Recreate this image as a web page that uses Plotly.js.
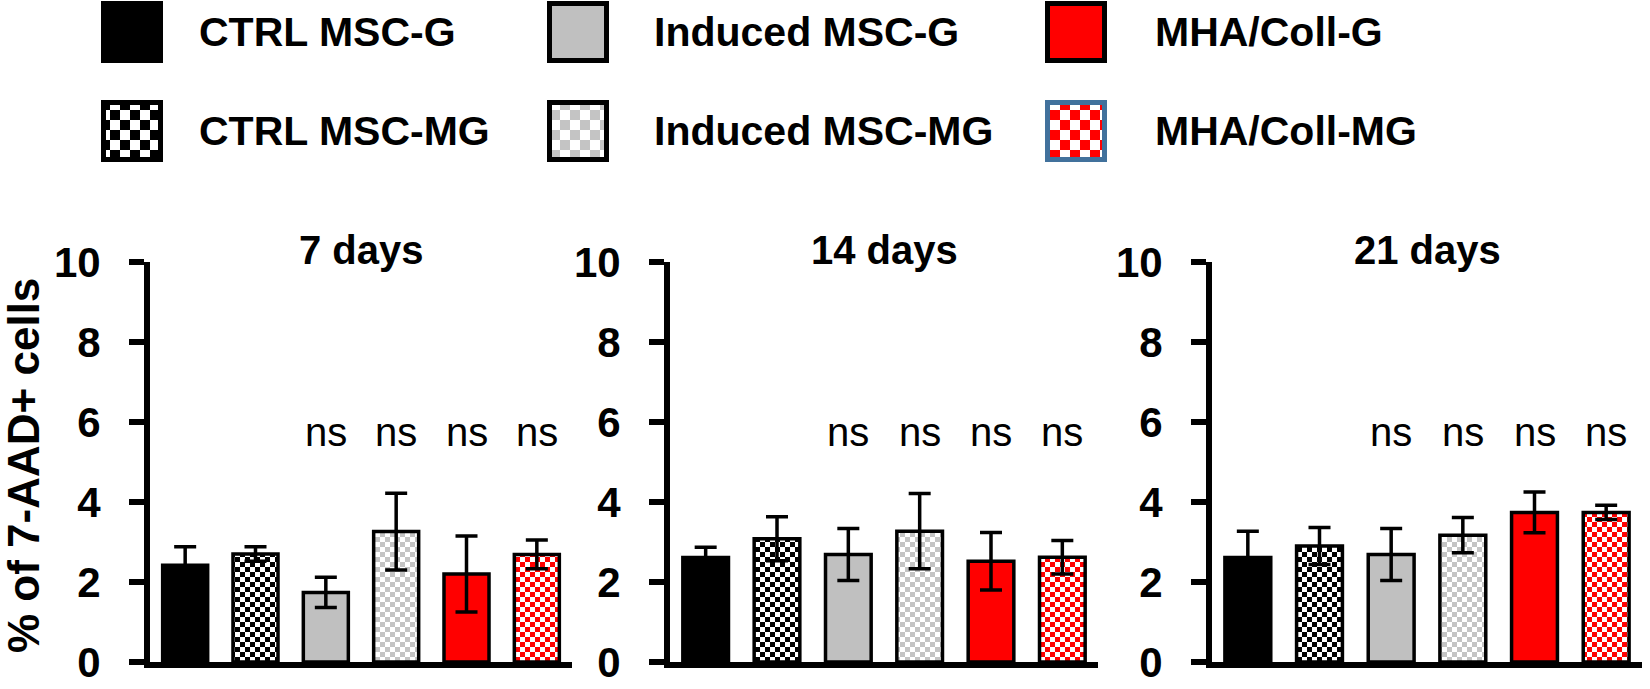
<!DOCTYPE html>
<html>
<head>
<meta charset="utf-8">
<script src="https://cdn.plot.ly/plotly-3.0.1.min.js"></script>
<style>
  html, body { margin: 0; padding: 0; background: #fff; }
  #chart { width: 1650px; height: 689px; }
</style>
</head>
<body>
<div id="chart"></div>
<script>
// groups and time points
var groups = ['CTRL MSC-G', 'CTRL MSC-MG', 'Induced MSC-G', 'Induced MSC-MG', 'MHA/Coll-G', 'MHA/Coll-MG'];
var days = ['7 days', '14 days', '21 days'];

// % of 7-AAD+ cells, mean and error
var mean7  = [2.42, 2.70, 1.74, 3.26, 2.20, 2.69];
var err7   = [0.46, 0.18, 0.38, 0.96, 0.95, 0.36];
var mean14 = [2.61, 3.08, 2.69, 3.27, 2.52, 2.62];
var err14  = [0.26, 0.55, 0.65, 0.94, 0.72, 0.42];
var mean21 = [2.61, 2.90, 2.69, 3.17, 3.74, 3.74];
var err21  = [0.66, 0.46, 0.65, 0.44, 0.51, 0.18];
var sig    = ['', '', 'ns', 'ns', 'ns', 'ns'];

var yTicks = [0, 2, 4, 6, 8, 10];

// key reading order: 3 per row
var keyOrder = [0, 2, 4, 1, 3, 5];

// ---- styles / layout constants ----
var FONT = 'Liberation Sans, Arial, sans-serif';
var W = 1650, H = 689;
var look = [
  { fill: '#000000', line: '#000000' },
  { fill: '#000000', bg: '#ffffff', line: '#000000' },
  { fill: '#c0c0c0', line: '#000000' },
  { fill: '#c4c4c4', bg: '#ffffff', line: '#000000' },
  { fill: '#ff0000', line: '#000000' },
  { fill: '#ff0000', bg: '#ffffff', line: '#000000', keyLine: '#41719c' }
];
var panelPx = [[150, 572], [670, 1098], [1212, 1642]];
var plotTop = 262, plotBottom = 662;
var nsLevel = 5.75;
var keyCols = [132, 578, 1076], keyText = [197, 652, 1153], keyRows = [32, 131], keySize = 57;
var keyHeight = 172;

var means = [mean7, mean14, mean21];
var errs = [err7, err14, err21];

var checkers = {};   // trace uid -> checkerboard colours
var traces = [];
var layout = {
  width: W, height: H,
  margin: { l: 0, r: 0, t: 0, b: 0 },
  paper_bgcolor: '#fff', plot_bgcolor: 'rgba(0,0,0,0)',
  barmode: 'overlay',
  showlegend: false,
  font: { family: FONT, color: '#000' },
  annotations: []
};

function axName(p) { return p === 0 ? '' : String(p + 1); }

days.forEach(function (day, p) {
  var xa = 'x' + axName(p), ya = 'y' + axName(p);
  groups.forEach(function (g, i) {
    var uid = 'bar' + p + 'g' + i;
    var marker = { color: look[i].fill, line: { color: look[i].line, width: 3.5 } };
    if (look[i].bg) {
      marker.pattern = { shape: '/', fgcolor: look[i].fill, bgcolor: look[i].bg, size: 10, fillmode: 'replace' };
      checkers[uid] = { fg: look[i].fill, bg: look[i].bg, cell: 5 };
    }
    traces.push({
      type: 'bar', x: [g], y: [means[p][i]], width: 0.64,
      error_y: { type: 'data', array: [errs[p][i]], color: '#000', thickness: 3.5, width: 11 },
      marker: marker, xaxis: xa, yaxis: ya, uid: uid, hoverinfo: 'skip'
    });
    if (sig[i]) {
      layout.annotations.push({
        text: sig[i], x: g, y: nsLevel, xref: xa, yref: ya, showarrow: false,
        xanchor: 'center', yanchor: 'middle',
        font: { family: FONT, size: 40, color: '#000' }
      });
    }
  });

  layout['xaxis' + axName(p)] = {
    domain: [panelPx[p][0] / W, panelPx[p][1] / W],
    anchor: ya, type: 'category', categoryarray: groups, range: [-0.5, 5.5],
    showline: true, linecolor: '#000', linewidth: 6,
    ticks: '', showticklabels: false, showgrid: false, zeroline: false, fixedrange: true
  };
  layout['yaxis' + axName(p)] = {
    domain: [(H - plotBottom) / H, (H - plotTop) / H],
    anchor: xa, range: [0, 10], tickvals: yTicks,
    showline: true, linecolor: '#000', linewidth: 6,
    ticks: 'outside', ticklen: 15, tickwidth: 6, tickcolor: '#000',
    ticklabelstandoff: 20, ticklabeloverflow: 'allow',
    tickfont: { family: FONT, size: 42, weight: 'bold', color: '#000' },
    showgrid: false, zeroline: false, fixedrange: true
  };
  layout.annotations.push({
    text: day, xref: xa + ' domain', x: 0.5, yref: 'paper', y: (H - 250) / H,
    xanchor: 'center', yanchor: 'middle', showarrow: false,
    font: { family: FONT, size: 40, weight: 'bold', color: '#000' }
  });
});

// y title
layout.annotations.push({
  text: '% of 7-AAD+ cells', xref: 'paper', yref: 'paper',
  x: 24 / W, y: (H - 466) / H, xanchor: 'center', yanchor: 'middle',
  textangle: -90, showarrow: false,
  font: { family: FONT, size: 44, weight: 'bold', color: '#000' }
});

// key swatches on a hidden pixel-scaled axis
layout.xaxis4 = { domain: [0, 1], range: [0, W], visible: false, fixedrange: true, anchor: 'y4' };
layout.yaxis4 = { domain: [1 - keyHeight / H, 1], range: [keyHeight, 0], visible: false, fixedrange: true, anchor: 'x4' };

keyOrder.forEach(function (i, k) {
  var col = k % 3, row = Math.floor(k / 3);
  var uid = 'key' + i;
  var marker = { color: look[i].fill, line: { color: look[i].keyLine || '#000', width: 5 } };
  if (look[i].bg) {
    marker.pattern = { shape: '/', fgcolor: look[i].fill, bgcolor: look[i].bg, size: 20, fillmode: 'replace' };
    checkers[uid] = { fg: look[i].fill, bg: look[i].bg, cell: 10 };
  }
  traces.push({
    type: 'bar', x: [keyCols[col]], base: [keyRows[row] - keySize / 2], y: [keySize], width: keySize,
    marker: marker, xaxis: 'x4', yaxis: 'y4', uid: uid, hoverinfo: 'skip'
  });
  layout.annotations.push({
    text: groups[i], xref: 'paper', yref: 'paper',
    x: keyText[col] / W, y: (H - keyRows[row]) / H, xanchor: 'left', yanchor: 'middle', showarrow: false,
    font: { family: FONT, size: 41, weight: 'bold', color: '#000' }
  });
});

// plotly has no checkerboard pattern: rewrite the generated <pattern> tiles
function paintCheckers(gd) {
  var svgNS = 'http://www.w3.org/2000/svg';
  gd.querySelectorAll('pattern').forEach(function (pat) {
    var key = Object.keys(checkers).find(function (k) { return pat.id.endsWith('-' + k); });
    if (!key) return;
    var c = checkers[key], s = c.cell;
    pat.setAttribute('width', 2 * s);
    pat.setAttribute('height', 2 * s);
    while (pat.firstChild) pat.removeChild(pat.firstChild);
    [[0, 0, 2 * s, c.bg], [0, 0, s, c.fg], [s, s, s, c.fg]].forEach(function (r) {
      var el = document.createElementNS(svgNS, 'rect');
      el.setAttribute('x', r[0]); el.setAttribute('y', r[1]);
      el.setAttribute('width', r[2]); el.setAttribute('height', r[2]);
      el.setAttribute('fill', r[3]);
      pat.appendChild(el);
    });
  });
}

Plotly.newPlot('chart', traces, layout, { staticPlot: true, displayModeBar: false })
  .then(paintCheckers);
</script>
</body>
</html>
